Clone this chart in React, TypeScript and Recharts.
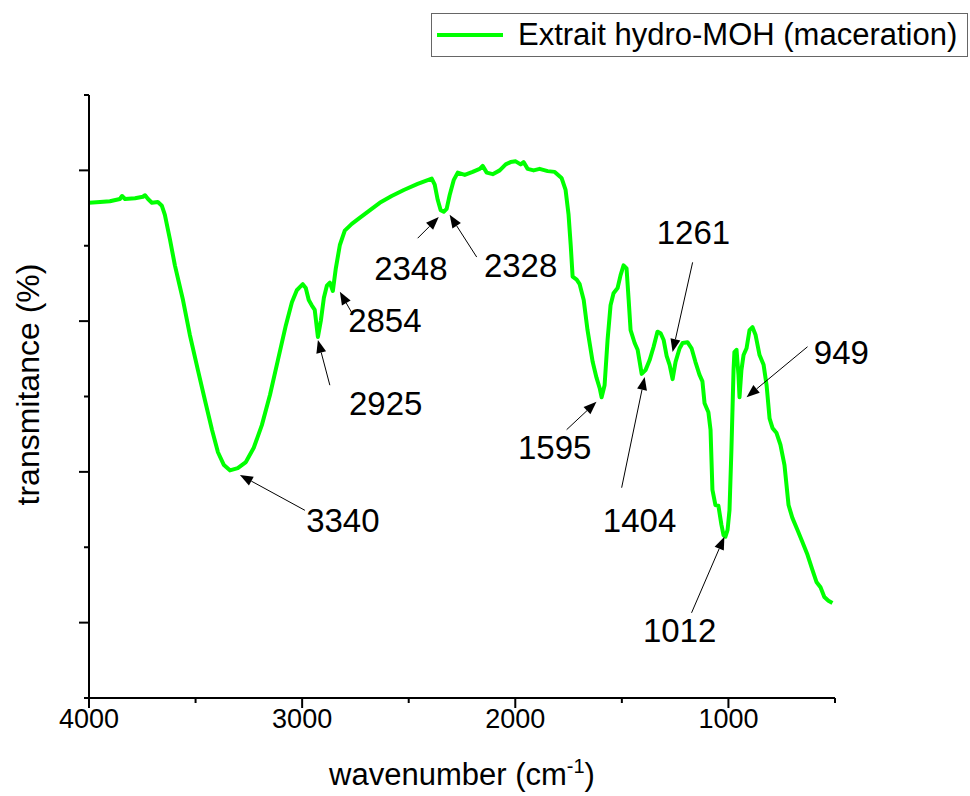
import { LineChart, Line, XAxis, YAxis, ReferenceLine, ReferenceDot } from 'recharts';

// FTIR spectrum (cm-1 / arbitrary transmittance units)
const wavenumbers = [
  4000, 3948, 3902, 3855, 3845, 3831, 3784, 3747, 3737, 3723, 3705, 3677, 3658, 3644, 3620, 3597,
  3559, 3527, 3489, 3456, 3423, 3395, 3367, 3339, 3302, 3264, 3227, 3189, 3151, 3114, 3076, 3048,
  3025, 3011, 2997, 2983, 2969, 2955, 2941, 2926, 2912, 2898, 2884, 2870, 2856, 2842, 2823, 2800,
  2767, 2730, 2683, 2636, 2580, 2523, 2458, 2392, 2378, 2364, 2350, 2336, 2322, 2308, 2289, 2270,
  2237, 2200, 2167, 2153, 2134, 2106, 2073, 2045, 2022, 1998, 1975, 1961, 1942, 1914, 1886, 1848,
  1815, 1783, 1764, 1750, 1740, 1731, 1712, 1698, 1679, 1661, 1637, 1619, 1604, 1595, 1581, 1567,
  1553, 1539, 1520, 1506, 1492, 1478, 1468, 1459, 1440, 1426, 1407, 1389, 1370, 1351, 1333, 1318,
  1304, 1290, 1276, 1262, 1248, 1229, 1215, 1192, 1173, 1155, 1136, 1122, 1112, 1094, 1084, 1075,
  1061, 1047, 1033, 1023, 1014, 1004, 995, 986, 976, 972, 962, 953, 948, 939, 929, 915,
  901, 887, 873, 854, 835, 821, 807, 793, 775, 756, 737, 718, 700, 676, 653, 629,
  606, 587, 568, 550, 531, 512,
];
const transmittance = [
  65.7, 65.8, 65.9, 66.2, 66.6, 66.2, 66.3, 66.5, 66.7, 66.2, 65.7, 65.8, 65.3, 64.1, 60.8, 57.4,
  52.8, 48.2, 43.5, 39.5, 35.6, 32.6, 30.9, 30.2, 30.5, 31.3, 33.2, 36.2, 40.2, 44.8, 49.5, 52.5,
  54.1, 54.5, 54.9, 54.4, 52.8, 52.1, 51.5, 47.9, 50.1, 53.1, 54.7, 55.1, 54.0, 57.0, 60.1, 62.0,
  62.9, 63.7, 64.7, 65.7, 66.6, 67.4, 68.2, 68.9, 68.1, 66.1, 64.7, 64.5, 64.9, 66.7, 68.7, 69.7,
  69.4, 69.8, 70.2, 70.6, 69.7, 69.5, 70.0, 70.8, 71.1, 71.2, 70.8, 71.1, 70.2, 70.0, 70.2, 69.9,
  69.8, 69.0, 67.4, 64.1, 60.1, 55.9, 55.5, 54.9, 52.8, 48.8, 44.6, 42.5, 41.1, 39.9, 41.5, 47.5,
  52.1, 53.7, 54.4, 56.1, 57.4, 57.0, 52.8, 48.8, 47.1, 46.2, 43.0, 43.5, 44.8, 46.6, 48.6, 48.4,
  47.5, 45.4, 44.2, 42.3, 44.6, 46.4, 47.1, 47.2, 46.4, 44.6, 42.9, 42.0, 39.1, 37.9, 35.6, 27.6,
  25.6, 25.5, 23.0, 21.6, 21.4, 22.3, 24.9, 32.9, 43.5, 45.9, 46.2, 42.9, 39.9, 43.5, 45.5, 46.4,
  48.8, 49.2, 48.2, 45.5, 44.2, 41.5, 37.1, 35.8, 35.2, 33.6, 30.9, 25.6, 23.9, 22.3, 20.7, 19.0,
  17.0, 15.4, 14.7, 13.4, 12.9, 12.6,
];

const xTicks = [4000, 3500, 3000, 2500, 2000, 1500, 1000, 500];
const yTicks = [0, 10, 20, 30, 40, 50, 60, 70, 80];

// peak annotations
const peakLabels = ['3340', '2925', '2854', '2348', '2328', '1595', '1404', '1261', '1012', '949'];
const labelX = [2809, 2608, 2612, 2490, 1975, 1815, 1417, 1164, 1229, 470];
const labelY = [23.6, 39.1, 50.1, 57.0, 57.4, 33.3, 23.6, 61.7, 9.0, 45.9];
const arrowFromX = [2987, 2870, 2767, 2458, 2181, 1759, 1501, 1168, 1173, 629];
const arrowFromY = [24.9, 41.5, 51.1, 61.0, 58.5, 35.6, 27.9, 57.8, 11.3, 46.6];
const arrowToX = [3292, 2926, 2823, 2359, 2308, 1619, 1393, 1262, 1019, 915];
const arrowToY = [29.6, 47.5, 53.9, 63.8, 64.1, 39.3, 42.6, 45.9, 21.4, 39.9];

const seriesName = 'Extrait hydro-MOH (maceration)';
const green = '#00ff00';
const font = '"Liberation Sans", Arial, sans-serif';

const data = wavenumbers.map((w, i) => ({ w, t: transmittance[i] }));

const XTick = ({ x, y, payload }: any) => {
  const major = payload.value % 1000 === 0;
  return (
    <g>
      <line x1={x} y1={y} x2={x} y2={y + (major ? 10 : 5)} stroke="#000" strokeWidth={2} />
      {major && (
        <text x={x} y={y + 30} textAnchor="middle" fontSize={27} fontFamily={font} fill="#000">
          {payload.value}
        </text>
      )}
    </g>
  );
};

const YTick = ({ x, y, payload }: any) => {
  const major = payload.value % 20 === 10;
  return <line x1={x - (major ? 10 : 5)} y1={y} x2={x} y2={y} stroke="#000" strokeWidth={2} />;
};

const Arrow = (props: any) => {
  const { x1, y1, x2, y2 } = props;
  const dx = x2 - x1;
  const dy = y2 - y1;
  const len = Math.sqrt(dx * dx + dy * dy) || 1;
  const ux = dx / len;
  const uy = dy / len;
  const L = 13;
  const W = 5;
  const bx = x2 - ux * L;
  const by = y2 - uy * L;
  return (
    <g>
      <line x1={x1} y1={y1} x2={bx} y2={by} stroke="#000" strokeWidth={1} />
      <polygon
        points={`${x2},${y2} ${bx - uy * W},${by + ux * W} ${bx + uy * W},${by - ux * W}`}
        fill="#000"
      />
    </g>
  );
};

export default function App() {
  return (
    <div style={{ position: 'absolute', left: 0, top: 0, width: 970, height: 796, background: '#fff' }}>
      <div
        style={{
          position: 'absolute',
          left: 431,
          top: 13,
          width: 537,
          height: 44,
          border: '1px solid #666',
          display: 'flex',
          alignItems: 'center',
          fontFamily: font,
          fontSize: 31,
          color: '#000',
          boxSizing: 'border-box',
        }}
      >
        <div style={{ width: 66, height: 4, background: green, marginLeft: 5, marginRight: 15 }} />
        <span style={{ whiteSpace: 'nowrap' }}>{seriesName}</span>
      </div>
      <LineChart width={970} height={796} data={data} margin={{ top: 95, right: 135, bottom: 0, left: 29 }}>
        <XAxis
          dataKey="w"
          type="number"
          domain={[500, 4000]}
          reversed
          ticks={xTicks}
          interval={0}
          allowDataOverflow
          height={98}
          tickSize={0}
          tickMargin={0}
          tick={<XTick />}
          axisLine={{ stroke: '#000', strokeWidth: 2 }}
          label={{
            content: ({ viewBox }: any) => (
              <text
                x={viewBox.x + viewBox.width / 2}
                y={viewBox.y + 87}
                textAnchor="middle"
                fontSize={31}
                fontFamily={font}
                fill="#000"
              >
                wavenumber (cm
                <tspan fontSize={20} dy={-12}>-1</tspan>
                <tspan dy={12}>)</tspan>
              </text>
            ),
          }}
        />
        <YAxis
          type="number"
          domain={[0, 80]}
          ticks={yTicks}
          interval={0}
          width={60}
          tickSize={0}
          tickMargin={0}
          tick={<YTick />}
          axisLine={{ stroke: '#000', strokeWidth: 2 }}
          label={{
            content: ({ viewBox }: any) => {
              const cx = 28;
              const cy = viewBox.y + viewBox.height / 2 - 12;
              return (
                <text
                  x={cx}
                  y={cy}
                  transform={`rotate(-90, ${cx}, ${cy})`}
                  textAnchor="middle"
                  dominantBaseline="central"
                  fontSize={32}
                  fontFamily={font}
                  fill="#000"
                >
                  transmitance (%)
                </text>
              );
            },
          }}
        />
        <Line
          type="linear"
          dataKey="t"
          name={seriesName}
          stroke={green}
          strokeWidth={4}
          strokeLinejoin="round"
          dot={false}
          isAnimationActive={false}
        />
        {peakLabels.map((p, i) => (
          <ReferenceLine
            key={`a${p}`}
            segment={[
              { x: arrowFromX[i], y: arrowFromY[i] },
              { x: arrowToX[i], y: arrowToY[i] },
            ]}
            ifOverflow="visible"
            shape={Arrow}
          />
        ))}
        {peakLabels.map((p, i) => (
          <ReferenceDot
            key={`l${p}`}
            x={labelX[i]}
            y={labelY[i]}
            r={0}
            ifOverflow="visible"
            shape={(props: any) => (
              <text
                x={props.cx}
                y={props.cy}
                textAnchor="middle"
                dominantBaseline="central"
                fontSize={33}
                fontFamily={font}
                fill="#000"
              >
                {p}
              </text>
            )}
          />
        ))}
      </LineChart>
    </div>
  );
}
